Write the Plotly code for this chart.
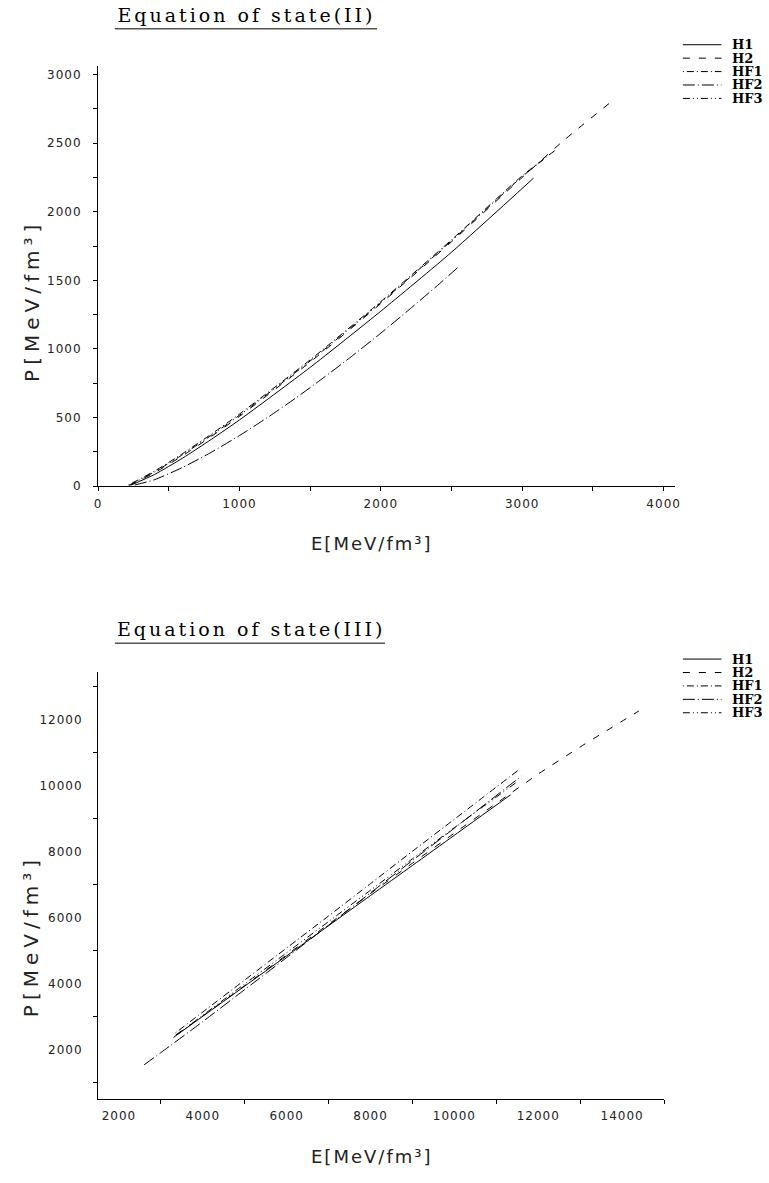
import plotly.graph_objects as go

W, H = 769, 1183

# ---------------- Equation of state (II) : P(E) in MeV/fm^3 ----------------
E_H1_II = [235, 400, 600, 800, 1000, 1500, 2000, 2500, 3080]
P_H1_II = [8, 85, 205, 340, 482, 865, 1275, 1705, 2245]

E_H2_II = [220, 400, 600, 800, 1000, 1500, 2000, 2500, 3000, 3300, 3640]
P_H2_II = [6, 98, 223, 361, 508, 904, 1331, 1781, 2250, 2525, 2810]

E_HF1_II = [215, 400, 600, 800, 1000, 1500, 2000, 2500, 3000, 3230]
P_HF1_II = [8, 110, 238, 378, 525, 920, 1345, 1795, 2262, 2445]

E_HF2_II = [260, 400, 600, 800, 1000, 1200, 1400, 1600, 1800, 2000, 2200, 2400, 2552]
P_HF2_II = [8, 47, 137, 246, 368, 501, 643, 794, 951, 1115, 1286, 1462, 1600]

E_HF3_II = [225, 400, 600, 800, 1000, 1500, 2000, 2500, 3000, 3150]
P_HF3_II = [7, 104, 230, 369, 516, 912, 1338, 1788, 2256, 2380]

# ---------------- Equation of state (III) ----------------
E_H1_III = [3300, 4000, 5000, 6000, 7000, 8000, 9000, 10000, 11340]
P_H1_III = [2380, 3020, 3935, 4850, 5765, 6680, 7590, 8505, 9730]

E_H2_III = [3350, 4000, 5000, 6000, 7000, 8000, 9000, 10000, 11000, 12000, 13000, 14400]
P_H2_III = [2450, 3030, 3950, 4880, 5810, 6740, 7660, 8570, 9470, 10360, 11180, 12270]

E_HF1_III = [3350, 4000, 5000, 6000, 7000, 8000, 9000, 10000, 11530]
P_HF1_III = [2520, 3150, 4120, 5090, 6060, 7040, 8020, 8990, 10480]

E_HF2_III = [2600, 3000, 4000, 5000, 6000, 7000, 8000, 9000, 10000, 11600]
P_HF2_III = [1550, 1920, 2860, 3830, 4800, 5780, 6760, 7740, 8720, 10300]

E_HF3_III = [3400, 4000, 5000, 6000, 7000, 8000, 9000, 10000, 11460]
P_HF3_III = [2480, 3050, 4000, 4945, 5890, 6840, 7790, 8735, 10090]

# tick labels
X_TICKS_II = [0, 1000, 2000, 3000, 4000]
Y_TICKS_II = [0, 500, 1000, 1500, 2000, 2500, 3000]
X_TICKS_III = [2000, 4000, 6000, 8000, 10000, 12000, 14000]
Y_TICKS_III = [2000, 4000, 6000, 8000, 10000, 12000]

NAMES = ["H1", "H2", "HF1", "HF2", "HF3"]
DASH = {
    "H1": "solid",
    "H2": "7px,9px",
    "HF1": "1px,3px,7px,3px",
    "HF2": "12px,3px,1px,3px",
    "HF3": "7px,3px,1px,3px,1px,3px",
}

panel_II = {
    "H1": (E_H1_II, P_H1_II), "H2": (E_H2_II, P_H2_II), "HF1": (E_HF1_II, P_HF1_II),
    "HF2": (E_HF2_II, P_HF2_II), "HF3": (E_HF3_II, P_HF3_II),
}
panel_III = {
    "H1": (E_H1_III, P_H1_III), "H2": (E_H2_III, P_H2_III), "HF1": (E_HF1_III, P_HF1_III),
    "HF2": (E_HF2_III, P_HF2_III), "HF3": (E_HF3_III, P_HF3_III),
}


def px(x):
    return x / W


def py(y):
    return 1 - y / H


fig = go.Figure()
for panel, xa, ya in [(panel_II, "x", "y"), (panel_III, "x2", "y2")]:
    for name in NAMES:
        e, p = panel[name]
        fig.add_trace(go.Scatter(
            x=e, y=p, mode="lines", name=name, showlegend=False,
            xaxis=xa, yaxis=ya,
            line=dict(color="black", width=1, dash=DASH[name], shape="spline", smoothing=0.6),
        ))

tick_font = dict(family="DejaVu Sans", size=12, color="#222")
axis_common = dict(
    showline=True, linecolor="black", linewidth=1, showgrid=False, zeroline=False,
    tickfont=tick_font, ticklen=4, tickcolor="black", mirror=False,
)


def ticks(vals):
    return dict(tickvals=vals, ticktext=[str(v) for v in vals])


fig.update_layout(
    width=W, height=H,
    margin=dict(l=0, r=0, t=0, b=0),
    paper_bgcolor="white", plot_bgcolor="white",
    showlegend=False,
    xaxis=dict(domain=[px(95), px(678)], anchor="y", range=[0, 4080],
               ticks="outside", ticklabelstandoff=2,
               minor=dict(tick0=0, dtick=500, ticks="outside", ticklen=4, tickcolor="black"),
               **ticks(X_TICKS_II), **axis_common),
    yaxis=dict(domain=[py(489), py(66)], anchor="x", range=[0, 3065],
               ticks="outside",
               minor=dict(tick0=0, dtick=250, ticks="outside", ticklen=4, tickcolor="black"),
               ticklabelstandoff=9, **ticks(Y_TICKS_II), **axis_common),
    xaxis2=dict(domain=[px(95), px(667)], anchor="y2", range=[1500, 15000],
                ticks="", ticklabelstandoff=5,
                minor=dict(tick0=1000, dtick=2000, ticks="outside", ticklen=4, tickcolor="black"),
                **ticks(X_TICKS_III), **axis_common),
    yaxis2=dict(domain=[py(1106), py(676)], anchor="x2", range=[500, 13450],
                ticks="",
                minor=dict(tick0=1000, dtick=2000, ticks="outside", ticklen=4, tickcolor="black"),
                ticklabelstandoff=12, **ticks(Y_TICKS_III), **axis_common),
)

title_font = dict(family="DejaVu Serif", size=19, color="black")
xlabel_font = dict(family="DejaVu Sans", size=18, color="#222")
ylabel_font = dict(family="DejaVu Sans", size=20, color="#222")
legend_font = dict(family="DejaVu Serif", size=13, color="black", weight="bold")

annotations = []
shapes = []

# panel titles with underline
for text, cy, x0, x1, uy in [("Equation of state(II)", 15, 112, 377, 29),
                              ("Equation of state(III)", 633, 112, 385, 647)]:
    annotations.append(dict(text=text, x=px((x0 + x1) / 2 + 1), y=py(cy), xref="paper", yref="paper",
                            xanchor="center", yanchor="middle", showarrow=False, font=title_font))
    shapes.append(dict(type="line", xref="paper", yref="paper", x0=px(x0), x1=px(x1),
                       y0=py(uy), y1=py(uy), line=dict(color="black", width=1)))

# axis titles
for cx, cy in [(372, 547), (372, 1163)]:
    annotations.append(dict(text="E[MeV/fm\u00b3]", x=px(cx), y=py(cy), xref="paper", yref="paper",
                            xanchor="center", yanchor="middle", showarrow=False, font=xlabel_font))
for cx, cy in [(28, 303), (28, 942)]:
    annotations.append(dict(text="P[MeV/fm\u00b3]", x=px(cx), y=py(cy), xref="paper", yref="paper",
                            xanchor="center", yanchor="middle", showarrow=False, textangle=-90,
                            font=ylabel_font))

# legends
for top in (45, 663):
    for i, name in enumerate(NAMES):
        yy = top + 13.5 * i
        shapes.append(dict(type="line", xref="paper", yref="paper", x0=px(686), x1=px(725),
                           y0=py(yy), y1=py(yy), line=dict(color="black", width=1, dash=DASH[name])))
        annotations.append(dict(text=name, x=px(734), y=py(yy), xref="paper", yref="paper",
                                xanchor="left", yanchor="middle", showarrow=False, font=legend_font))

fig.update_layout(annotations=annotations, shapes=shapes)

# wide letter spacing for the titles and tick numbers
spacing_js = """
var gd = document.getElementById('{plot_id}');
gd.querySelectorAll('.annotation').forEach(function (a) {
  var t = a.querySelector('text');
  if (!t) return;
  var s = t.textContent;
  if (s.indexOf('Equation') === 0) t.style.letterSpacing = '3px';
  else if (s.indexOf('E[') === 0) t.style.letterSpacing = '2px';
  else if (s.indexOf('P[') === 0) t.style.letterSpacing = '5px';
});
gd.querySelectorAll('.xtick text, .ytick text, .x2tick text, .y2tick text').forEach(function (t) {
  t.style.letterSpacing = '1px';
});
"""

fig.write_html("out.html", post_script=spacing_js)
